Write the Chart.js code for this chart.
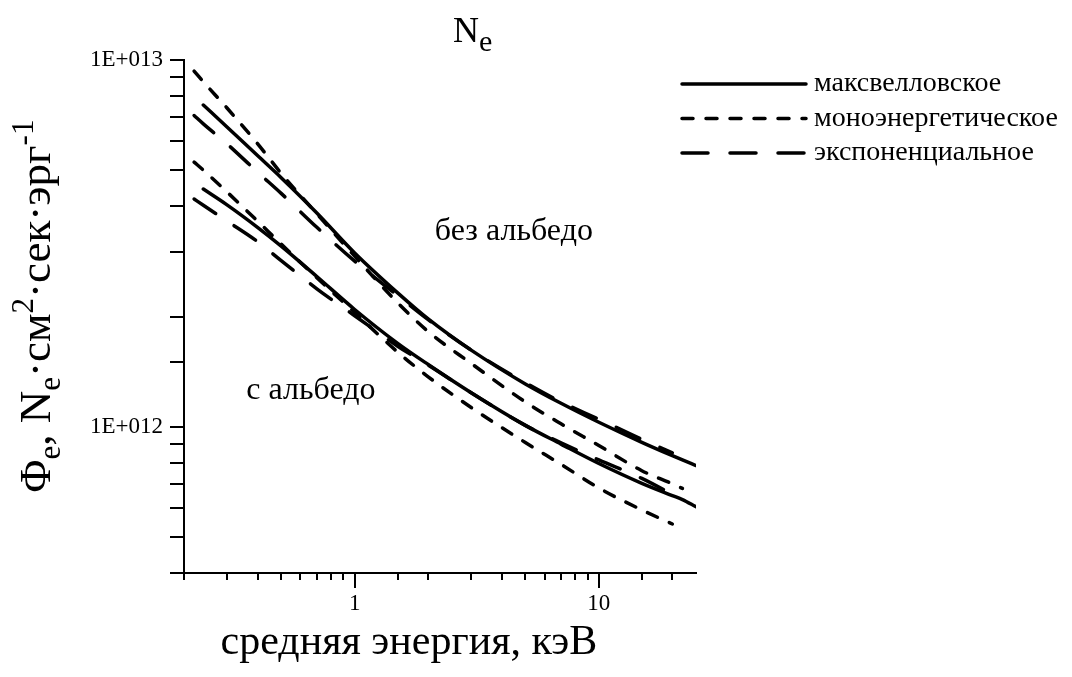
<!DOCTYPE html>
<html>
<head>
<meta charset="utf-8">
<script src="https://cdn.jsdelivr.net/npm/chart.js@4.4.0/dist/chart.umd.min.js"></script>
<style>
html, body { margin: 0; padding: 0; background: #fff; }
</style>
</head>
<body>
<canvas id="flux-chart" width="1072" height="677"></canvas>
<script>
// mean energy, keV
const energy = [0.22, 0.24, 0.3, 0.4, 0.5, 0.7, 1, 1.5, 2, 3, 5, 7, 10, 15, 20, 22, 25];

// flux without albedo
const maxwNoAlb = [null, 7.54e12, 6.57e12, 5.49e12, 4.78e12, 3.83e12, 2.98e12, 2.32e12, 1.97e12, 1.62e12, 1.31e12, 1.16e12, 1.03e12, 9.08e11, 8.35e11, 8.13e11, 7.85e11];
const monoNoAlb = [9.33e12, 8.72e12, 7.40e12, 5.92e12, 4.91e12, 3.81e12, 2.92e12, 2.18e12, 1.82e12, 1.49e12, 1.17e12, 1.02e12, 8.9e11, 7.6e11, 7.0e11, 6.8e11, null];
const expNoAlb = [7.06e12, 6.70e12, 5.91e12, 4.95e12, 4.33e12, 3.50e12, 2.83e12, 2.28e12, 1.96e12, 1.62e12, 1.32e12, 1.17e12, 1.05e12, 9.25e11, 8.5e11, null, null];

// flux with albedo
const maxwAlb = [null, 4.45e12, 4.03e12, 3.50e12, 3.11e12, 2.57e12, 2.09e12, 1.69e12, 1.48e12, 1.24e12, 1.01e12, 8.98e11, 7.95e11, 7.02e11, 6.5e11, 6.34e11, 6.06e11];
const monoAlb = [5.27e12, 5.01e12, 4.37e12, 3.64e12, 3.15e12, 2.55e12, 2.05e12, 1.60e12, 1.37e12, 1.13e12, 9.07e11, 7.91e11, 6.82e11, 5.94e11, 5.44e11, null, null];
const expAlb = [4.18e12, 4.02e12, 3.64e12, 3.20e12, 2.84e12, 2.38e12, 2.01e12, 1.66e12, 1.475e12, 1.24e12, 1.01e12, 9.05e11, 8.13e11, 7.24e11, 6.55e11, 6.33e11, null];

const seriesNames = ['максвелловское', 'моноэнергетическое', 'экспоненциальное'];
const xLabels = [1, 10];
const yLabels = { 1e12: '1E+012', 1e13: '1E+013' };
const areaLabels = ['без альбедо', 'с альбедо'];

const SERIF = '"Liberation Serif", "DejaVu Serif", serif';
const dashes = [[], [11, 13], [26, 22]];

function toPoints(values) {
    return energy.map((e, i) => ({ x: e, y: values[i] }));
}

function makeSet(label, values, kind) {
    return {
        label: label,
        data: toPoints(values),
        borderColor: '#000',
        borderWidth: 3.5,
        borderDash: dashes[kind],
        borderCapStyle: 'round',
        pointRadius: 0,
        fill: false,
        cubicInterpolationMode: 'monotone'
    };
}

// draw a row of text pieces with sub/superscripts, starting at x
function drawRuns(ctx, runs, x, y) {
    runs.forEach(r => {
        ctx.font = r.size + 'px ' + SERIF;
        ctx.fillText(r.t, x, y + r.dy);
        x += ctx.measureText(r.t).width;
    });
}

function runsWidth(ctx, runs) {
    let w = 0;
    runs.forEach(r => {
        ctx.font = r.size + 'px ' + SERIF;
        w += ctx.measureText(r.t).width;
    });
    return w;
}

const extrasPlugin = {
    id: 'extras',
    afterDraw(chart) {
        const ctx = chart.ctx;
        const xs = chart.scales.x;
        const ys = chart.scales.y;
        ctx.save();
        ctx.fillStyle = '#000';
        ctx.strokeStyle = '#000';
        ctx.textBaseline = 'alphabetic';
        ctx.textAlign = 'left';

        // longer ticks for labelled decades
        ctx.lineWidth = 2;
        xLabels.forEach(v => {
            const px = Math.round(xs.getPixelForValue(v));
            ctx.beginPath();
            ctx.moveTo(px, ys.bottom);
            ctx.lineTo(px, ys.bottom + 15);
            ctx.stroke();
        });

        // title N_e
        drawRuns(ctx, [{ t: 'N', size: 36, dy: 0 }, { t: 'e', size: 30, dy: 9 }], 453, 42);

        // x axis title
        ctx.font = '42px ' + SERIF;
        ctx.textAlign = 'center';
        ctx.fillText('средняя энергия, кэВ', 409, 654);

        // y axis title, rotated
        const yRuns = [
            { t: 'Φ', size: 45, dy: 0 }, { t: 'e', size: 31, dy: 10 },
            { t: ', N', size: 45, dy: 0 }, { t: 'e', size: 31, dy: 10 },
            { t: '·см', size: 45, dy: 0 }, { t: '2', size: 31, dy: -17 },
            { t: '·сек·эрг', size: 45, dy: 0 }, { t: '-1', size: 31, dy: -17 }
        ];
        ctx.textAlign = 'left';
        ctx.save();
        ctx.translate(50, 306);
        ctx.rotate(-Math.PI / 2);
        drawRuns(ctx, yRuns, -runsWidth(ctx, yRuns) / 2, 0);
        ctx.restore();

        // area labels
        ctx.font = '32px ' + SERIF;
        ctx.textAlign = 'left';
        ctx.textBaseline = 'middle';
        ctx.fillText(areaLabels[0], xs.getPixelForValue(2.13), ys.getPixelForValue(3.4e12));
        ctx.fillText(areaLabels[1], xs.getPixelForValue(0.36), ys.getPixelForValue(1.26e12));

        // legend
        chart.data.datasets.slice(0, 3).forEach((ds, i) => {
            const ly = 84 + i * 34.5;
            ctx.lineWidth = ds.borderWidth;
            ctx.lineCap = 'round';
            ctx.setLineDash(ds.borderDash);
            ctx.beginPath();
            ctx.moveTo(682, ly);
            ctx.lineTo(806, ly);
            ctx.stroke();
            ctx.setLineDash([]);
            ctx.font = '28px ' + SERIF;
            ctx.fillText(ds.label, 814, ly);
        });
        ctx.restore();
    }
};

function createFluxChart() {
    const ctx = document.getElementById('flux-chart').getContext('2d');

    window.fluxChart = new Chart(ctx, {
        type: 'line',
        data: {
            datasets: [
                makeSet(seriesNames[0], maxwNoAlb, 0),
                makeSet(seriesNames[1], monoNoAlb, 1),
                makeSet(seriesNames[2], expNoAlb, 2),
                makeSet(seriesNames[0], maxwAlb, 0),
                makeSet(seriesNames[1], monoAlb, 1),
                makeSet(seriesNames[2], expAlb, 2)
            ]
        },
        options: {
            responsive: false,
            animation: false,
            devicePixelRatio: 1,
            layout: { padding: { top: 60, right: 376, left: 0, bottom: 0 } },
            plugins: {
                legend: { display: false },
                tooltip: { enabled: false }
            },
            scales: {
                x: {
                    type: 'logarithmic',
                    min: 0.2,
                    max: 25,
                    afterFit: s => { s.height = 104; },
                    border: { color: '#000', width: 2 },
                    grid: {
                        drawOnChartArea: false,
                        tickLength: 7,
                        lineWidth: 2,
                        color: c => (c.tick && c.tick.value === 25) ? 'rgba(0,0,0,0)' : '#000'
                    },
                    ticks: {
                        autoSkip: false,
                        maxRotation: 0,
                        padding: 10,
                        color: '#000',
                        font: { family: SERIF, size: 23 },
                        callback: v => xLabels.includes(v) ? String(v) : ''
                    }
                },
                y: {
                    type: 'logarithmic',
                    min: 4e11,
                    max: 1e13,
                    afterFit: s => { s.width = 184; },
                    border: { color: '#000', width: 2 },
                    grid: {
                        drawOnChartArea: false,
                        tickLength: 14,
                        lineWidth: 2,
                        color: '#000'
                    },
                    ticks: {
                        autoSkip: false,
                        padding: 7,
                        color: '#000',
                        font: { family: SERIF, size: 23 },
                        callback: v => yLabels[v] || ''
                    }
                }
            }
        },
        plugins: [extrasPlugin]
    });
}

createFluxChart();
</script>
</body>
</html>
